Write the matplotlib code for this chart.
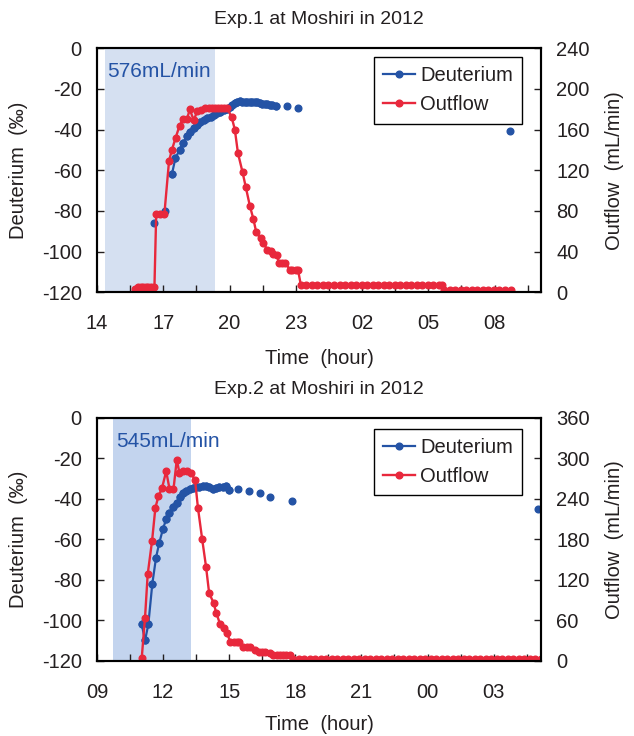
import numpy as np
import matplotlib.pyplot as plt
from matplotlib.ticker import FixedLocator, FuncFormatter

plt.rcParams['font.family'] = ['Liberation Sans', 'DejaVu Sans']
plt.rcParams['text.color'] = '#231f20'
plt.rcParams['axes.unicode_minus'] = False

BLUE = '#2453a5'
RED = '#e8283c'
INK = '#231f20'

# ---- Exp.1 (hours since midnight of day 1) ----
d1_t = [16.56, 17.09, 17.39, 17.55, 17.74, 17.90, 18.08, 18.23, 18.38, 18.53,
        18.68, 18.83, 18.99, 19.14, 19.29, 19.44, 19.59, 19.74, 19.90, 20.00,
        20.12, 20.25, 20.35, 20.46, 20.57, 20.68, 20.80, 20.92, 21.03, 21.15,
        21.26, 21.37, 21.48, 21.60, 21.71, 21.82, 21.94, 22.09,
        22.59, 23.08, 29.55, 32.70]
d1_v = [-86, -80, -62, -54, -50, -46.5, -43, -41, -39, -37.8,
        -36.5, -35.4, -34.4, -33.6, -32.8, -32, -31.2, -30.5, -29.8, -29,
        -28, -27, -26.2, -26, -26.2, -26.5, -26.6, -26.3, -26.2, -26.5,
        -26.6, -27, -27.2, -27.3, -27.5, -27.7, -27.8, -28.4,
        -28.4, -29.4, -34.6, -40.9]
d1_join = (2, 38)

q1_t = [15.73, 15.85, 15.97, 16.09, 16.21, 16.33, 16.45, 16.60, 16.68, 16.86,
        17.05, 17.26, 17.39, 17.56, 17.74, 17.89, 18.07, 18.20, 18.38, 18.53,
        18.72, 18.91, 19.06, 19.20, 19.34, 19.48, 19.62, 19.76, 19.90, 20.10,
        20.24, 20.38, 20.59, 20.73, 20.92, 21.08, 21.21, 21.41, 21.53, 21.71,
        21.86, 21.98, 22.13, 22.24, 22.38, 22.53, 22.73, 22.85, 23.00, 23.10,
        23.23, 23.48, 23.73, 23.98, 24.23, 24.48, 24.73, 24.98, 25.23, 25.48,
        25.73, 25.98, 26.23, 26.48, 26.73, 26.98, 27.23, 27.48, 27.73, 27.98,
        28.23, 28.48, 28.73, 28.98, 29.23, 29.48, 29.60,
        29.72, 29.97, 30.22, 30.47, 30.72, 30.97, 31.22, 31.47, 31.72, 31.97,
        32.22, 32.47, 32.72]
q1_v = [3, 5, 5, 5, 5, 5, 5, 5, 77, 77,
        77, 129, 140, 152, 164, 170, 170, 180, 169, 178,
        179, 181, 181, 181, 181, 181, 181, 181, 181, 172,
        160, 137, 118, 104, 85, 72, 59, 53, 48, 42,
        41, 38, 37, 29, 29, 29, 22, 22, 22, 22,
        7, 7, 7, 7, 7, 7, 7, 7, 7, 7,
        7, 7, 7, 7, 7, 7, 7, 7, 7, 7,
        7, 7, 7, 7, 7, 7, 7,
        2, 2, 2, 2, 2, 2, 2, 2, 2, 2,
        2, 2, 2]

# ---- Exp.2 ----
d2_t = [11.03, 11.18, 11.33, 11.51, 11.68, 11.82, 11.99, 12.14, 12.29, 12.47,
        12.62, 12.77, 12.92, 13.06, 13.20, 13.35, 13.50, 13.65, 13.80, 13.95,
        14.10, 14.25, 14.40, 14.55, 14.70, 14.85, 14.97,
        15.42, 15.91, 16.38, 16.86, 17.85, 29.00]
d2_v = [-102, -110, -102, -82, -69, -62, -55, -50, -47, -44,
        -42, -39, -37, -36, -35.2, -34.6, -34.2, -34, -33.6, -33.8,
        -34.2, -35, -34.7, -34.3, -34, -33.8, -35.5,
        -35.2, -36, -37, -39, -41, -45]
d2_join = (0, 27)

q2_t = [11.03, 11.18, 11.30, 11.50, 11.65, 11.79, 11.95, 12.14, 12.29, 12.47,
        12.62, 12.74, 12.92, 13.10, 13.27, 13.45, 13.58, 13.77, 13.95, 14.09,
        14.29, 14.41, 14.59, 14.77, 14.90, 15.05, 15.20, 15.35, 15.45, 15.62,
        15.80, 15.95, 16.18, 16.33, 16.48, 16.64, 16.86, 17.00, 17.15, 17.30,
        17.45, 17.60, 17.77, 17.90, 18.15, 18.40, 18.65, 18.90, 19.15, 19.40,
        19.65, 19.90, 20.15, 20.40, 20.65, 20.90, 21.15, 21.40, 21.65, 21.90,
        22.15, 22.40, 22.65, 22.90, 23.15, 23.40, 23.65, 23.90, 24.15, 24.40,
        24.65, 24.90, 25.15, 25.40, 25.65, 25.90, 26.15, 26.40, 26.65, 26.90,
        27.15, 27.40, 27.65, 27.90, 28.15, 28.40, 28.65, 28.90, 29.15]
q2_v = [4, 64, 128, 178, 227, 244, 256, 281, 255, 254,
        298, 279, 281, 281, 278, 268, 227, 181, 139, 100,
        86, 71, 54, 48, 41, 28, 28, 28, 28, 20,
        20, 20, 16, 13, 13, 13, 12, 8, 8, 8,
        8, 8, 8, 3, 2, 2, 2, 2, 2, 2,
        2, 2, 2, 2, 2, 2, 2, 2, 2, 2,
        2, 2, 2, 2, 2, 2, 2, 2, 2, 2,
        2, 2, 2, 2, 2, 2, 2, 2, 2, 2,
        2, 2, 2, 2, 2, 2, 2, 2, 2]

panels = [
    dict(pos=[0.1530, 0.6029, 0.7003, 0.3315], t0=14, span=20.1,
         rmax=240, rstep=40, shade=(14.36, 19.33), shade_c='#d5e0f1',
         rate='576mL/min', rate_xy=(0.022, 0.903),
         d_t=d1_t, d_v=d1_v, join=d1_join, q_t=q1_t, q_v=q1_v,
         leg=(0.957, 0.963), title='Exp.1 at Moshiri in 2012',
         title_y=20, xlab_y=358),
    dict(pos=[0.1530, 0.1023, 0.7003, 0.3298], t0=9, span=20.15,
         rmax=360, rstep=60, shade=(9.74, 13.26), shade_c='#c3d4ee',
         rate='545mL/min', rate_xy=(0.043, 0.905),
         d_t=d2_t, d_v=d2_v, join=d2_join, q_t=q2_t, q_v=q2_v,
         leg=(0.957, 0.955), title='Exp.2 at Moshiri in 2012',
         title_y=390, xlab_y=724),
]

fig = plt.figure(figsize=(6.34, 7.36), dpi=100)

for p in panels:
    ax = fig.add_axes(p['pos'])
    ax2 = ax.twinx()
    t0, span = p['t0'], p['span']

    ax.axvspan(*p['shade'], color=p['shade_c'], lw=0, zorder=0)
    ax.text(*p['rate_xy'], p['rate'], transform=ax.transAxes, color=BLUE,
            fontsize=15, va='center', ha='left')

    i0, i1 = p['join']
    ax.plot(p['d_t'], p['d_v'], 'o', color=BLUE, ms=4.8, ls='none')
    dl, = ax.plot(p['d_t'][i0:i1], p['d_v'][i0:i1], '-o', color=BLUE,
                  ms=4.8, lw=1.6, label='Deuterium')
    ql, = ax2.plot(p['q_t'], p['q_v'], '-o', color=RED, ms=4.8, lw=1.7,
                   label='Outflow')

    ax.set_xlim(t0, t0 + span)
    ax.set_ylim(-120, 0)
    ax.set_yticks(np.arange(-120, 1, 20))
    ax2.set_ylim(0, p['rmax'])
    ax2.set_yticks(np.arange(0, p['rmax'] + 1, p['rstep']))

    ax.xaxis.set_major_locator(FixedLocator(np.arange(t0, t0 + span, 3)))
    ax.xaxis.set_minor_locator(FixedLocator(np.arange(t0 + 1.5, t0 + span, 3)))
    ax.xaxis.set_major_formatter(
        FuncFormatter(lambda x, pos: f"{int(round(x)) % 24:02d}"))

    ax.tick_params(axis='x', which='both', direction='in', length=5,
                   width=1, pad=16, labelsize=14.5, colors=INK)
    ax.tick_params(axis='y', direction='in', length=5, width=1, pad=11,
                   labelsize=14.5, colors=INK)
    ax2.tick_params(axis='y', direction='in', length=5, width=1, pad=11,
                    labelsize=14.5, colors=INK)
    for a in (ax, ax2):
        for s in a.spines.values():
            s.set_linewidth(1.5)
            s.set_color('black')

    leg = ax2.legend(handles=[dl, ql], loc='upper right',
                     bbox_to_anchor=p['leg'], borderaxespad=0,
                     fontsize=14.5, fancybox=False, framealpha=1,
                     edgecolor='black', handlelength=1.6,
                     handletextpad=0.25, borderpad=0.45, labelspacing=0.5)
    leg.get_frame().set_linewidth(1.0)

    fig.text(319 / 634, 1 - p['title_y'] / 736, p['title'], fontsize=14,
             ha='center', va='center')
    fig.text(319 / 634, 1 - p['xlab_y'] / 736, 'Time  (hour)', fontsize=14.5,
             ha='center', va='center')
    ymid = p['pos'][1] + p['pos'][3] / 2
    fig.text(19 / 634, ymid, 'Deuterium  (‰)', fontsize=14.5, rotation=90,
             ha='center', va='center')
    fig.text(614 / 634, ymid, 'Outflow  (mL/min)', fontsize=14.5,
             rotation=90, ha='center', va='center')

fig.savefig('out.png', dpi=100)
